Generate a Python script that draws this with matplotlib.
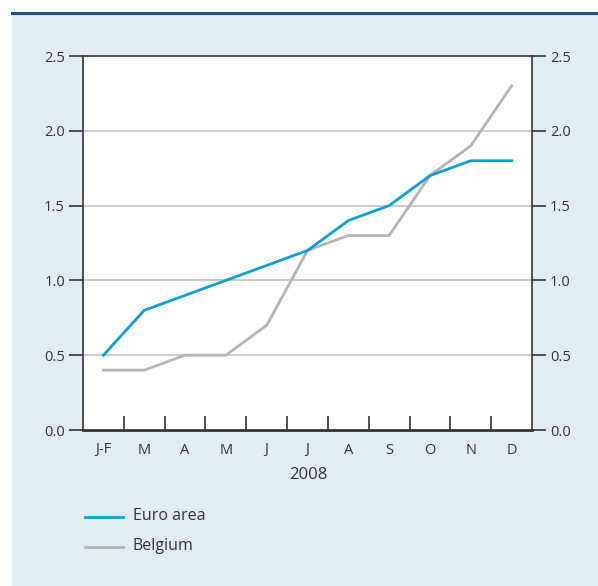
import matplotlib
matplotlib.use("Agg")
import matplotlib.pyplot as plt
from matplotlib.patches import Rectangle
from matplotlib.lines import Line2D

plt.rcParams['font.family'] = ['Open Sans', 'DejaVu Sans']

months = ["J-F", "M", "A", "M", "J", "J", "A", "S", "O", "N", "D"]
euro_area = [0.5, 0.8, 0.9, 1.0, 1.1, 1.2, 1.4, 1.5, 1.7, 1.8, 1.8]
belgium = [0.4, 0.4, 0.5, 0.5, 0.7, 1.2, 1.3, 1.3, 1.7, 1.9, 2.3]
y_ticks = [0.0, 0.5, 1.0, 1.5, 2.0, 2.5]
year_label = "2008"

BLUE = "#0b9fdc"
GREY = "#b4b4b4"
PANEL = "#e1ecf3"
DARK = "#333333"

W, H = 598, 586
fig = plt.figure(figsize=(W / 100, H / 100), dpi=100)

def fx(px):
    return px / W

def fy(py):
    return 1 - py / H

# background panel with its dark blue rule on top
fig.patches.append(Rectangle((fx(12), 0), fx(586), fy(12), transform=fig.transFigure,
                             facecolor=PANEL, edgecolor="none", zorder=0))
fig.lines.append(Line2D([fx(12), 1], [fy(13), fy(13)], transform=fig.transFigure,
                        color="#1b4f8f", lw=2.2, zorder=1))

ax = fig.add_axes([fx(83), fy(430), fx(449), (430 - 56) / H])
ax.set_zorder(5)
ax.set_facecolor("white")
x = list(range(len(months)))

for v in y_ticks[1:-1]:
    ax.axhline(v, color="#c4c4c4", lw=1.2, zorder=1)

ax.plot(x, belgium, color=GREY, lw=2.0, zorder=3)
ax.plot(x, euro_area, color=BLUE, lw=2.0, zorder=4)

ax.set_xlim(-0.5, len(months) - 0.5)
ax.set_ylim(0, 2.5)
ax.set_yticks(y_ticks)
ax.set_yticklabels([f"{v:.1f}" for v in y_ticks])
ax.tick_params(axis="y", direction="out", length=10, width=1.2, color=DARK,
               labelsize=10.5, labelcolor=DARK, pad=3, left=True, right=True,
               labelleft=True, labelright=True)

# month labels at category centres, ticks at boundaries
ax.set_xticks(x)
ax.set_xticklabels(months)
ax.tick_params(axis="x", which="major", length=0, labelsize=10.5, labelcolor=DARK, pad=9)
ax.set_xticks([i + 0.5 for i in x[:-1]], minor=True)
ax.tick_params(axis="x", which="minor", direction="in", length=10, width=1.2, color=DARK)

for s in ax.spines.values():
    s.set_color(DARK)
    s.set_linewidth(1.2)
ax.spines["bottom"].set_linewidth(2.0)

fig.text(fx(308), fy(475), year_label, ha="center", va="center", fontsize=12, color=DARK)

# legend
legend_items = [("Euro area", BLUE, 517), ("Belgium", GREY, 547)]
for label, col, py in legend_items:
    fig.lines.append(Line2D([fx(85), fx(123)], [fy(py), fy(py)], transform=fig.transFigure,
                            color=col, lw=2.0))
    fig.text(fx(133), fy(py - 1), label, ha="left", va="center", fontsize=11.5, color=DARK)

fig.savefig("out.png", dpi=100)
